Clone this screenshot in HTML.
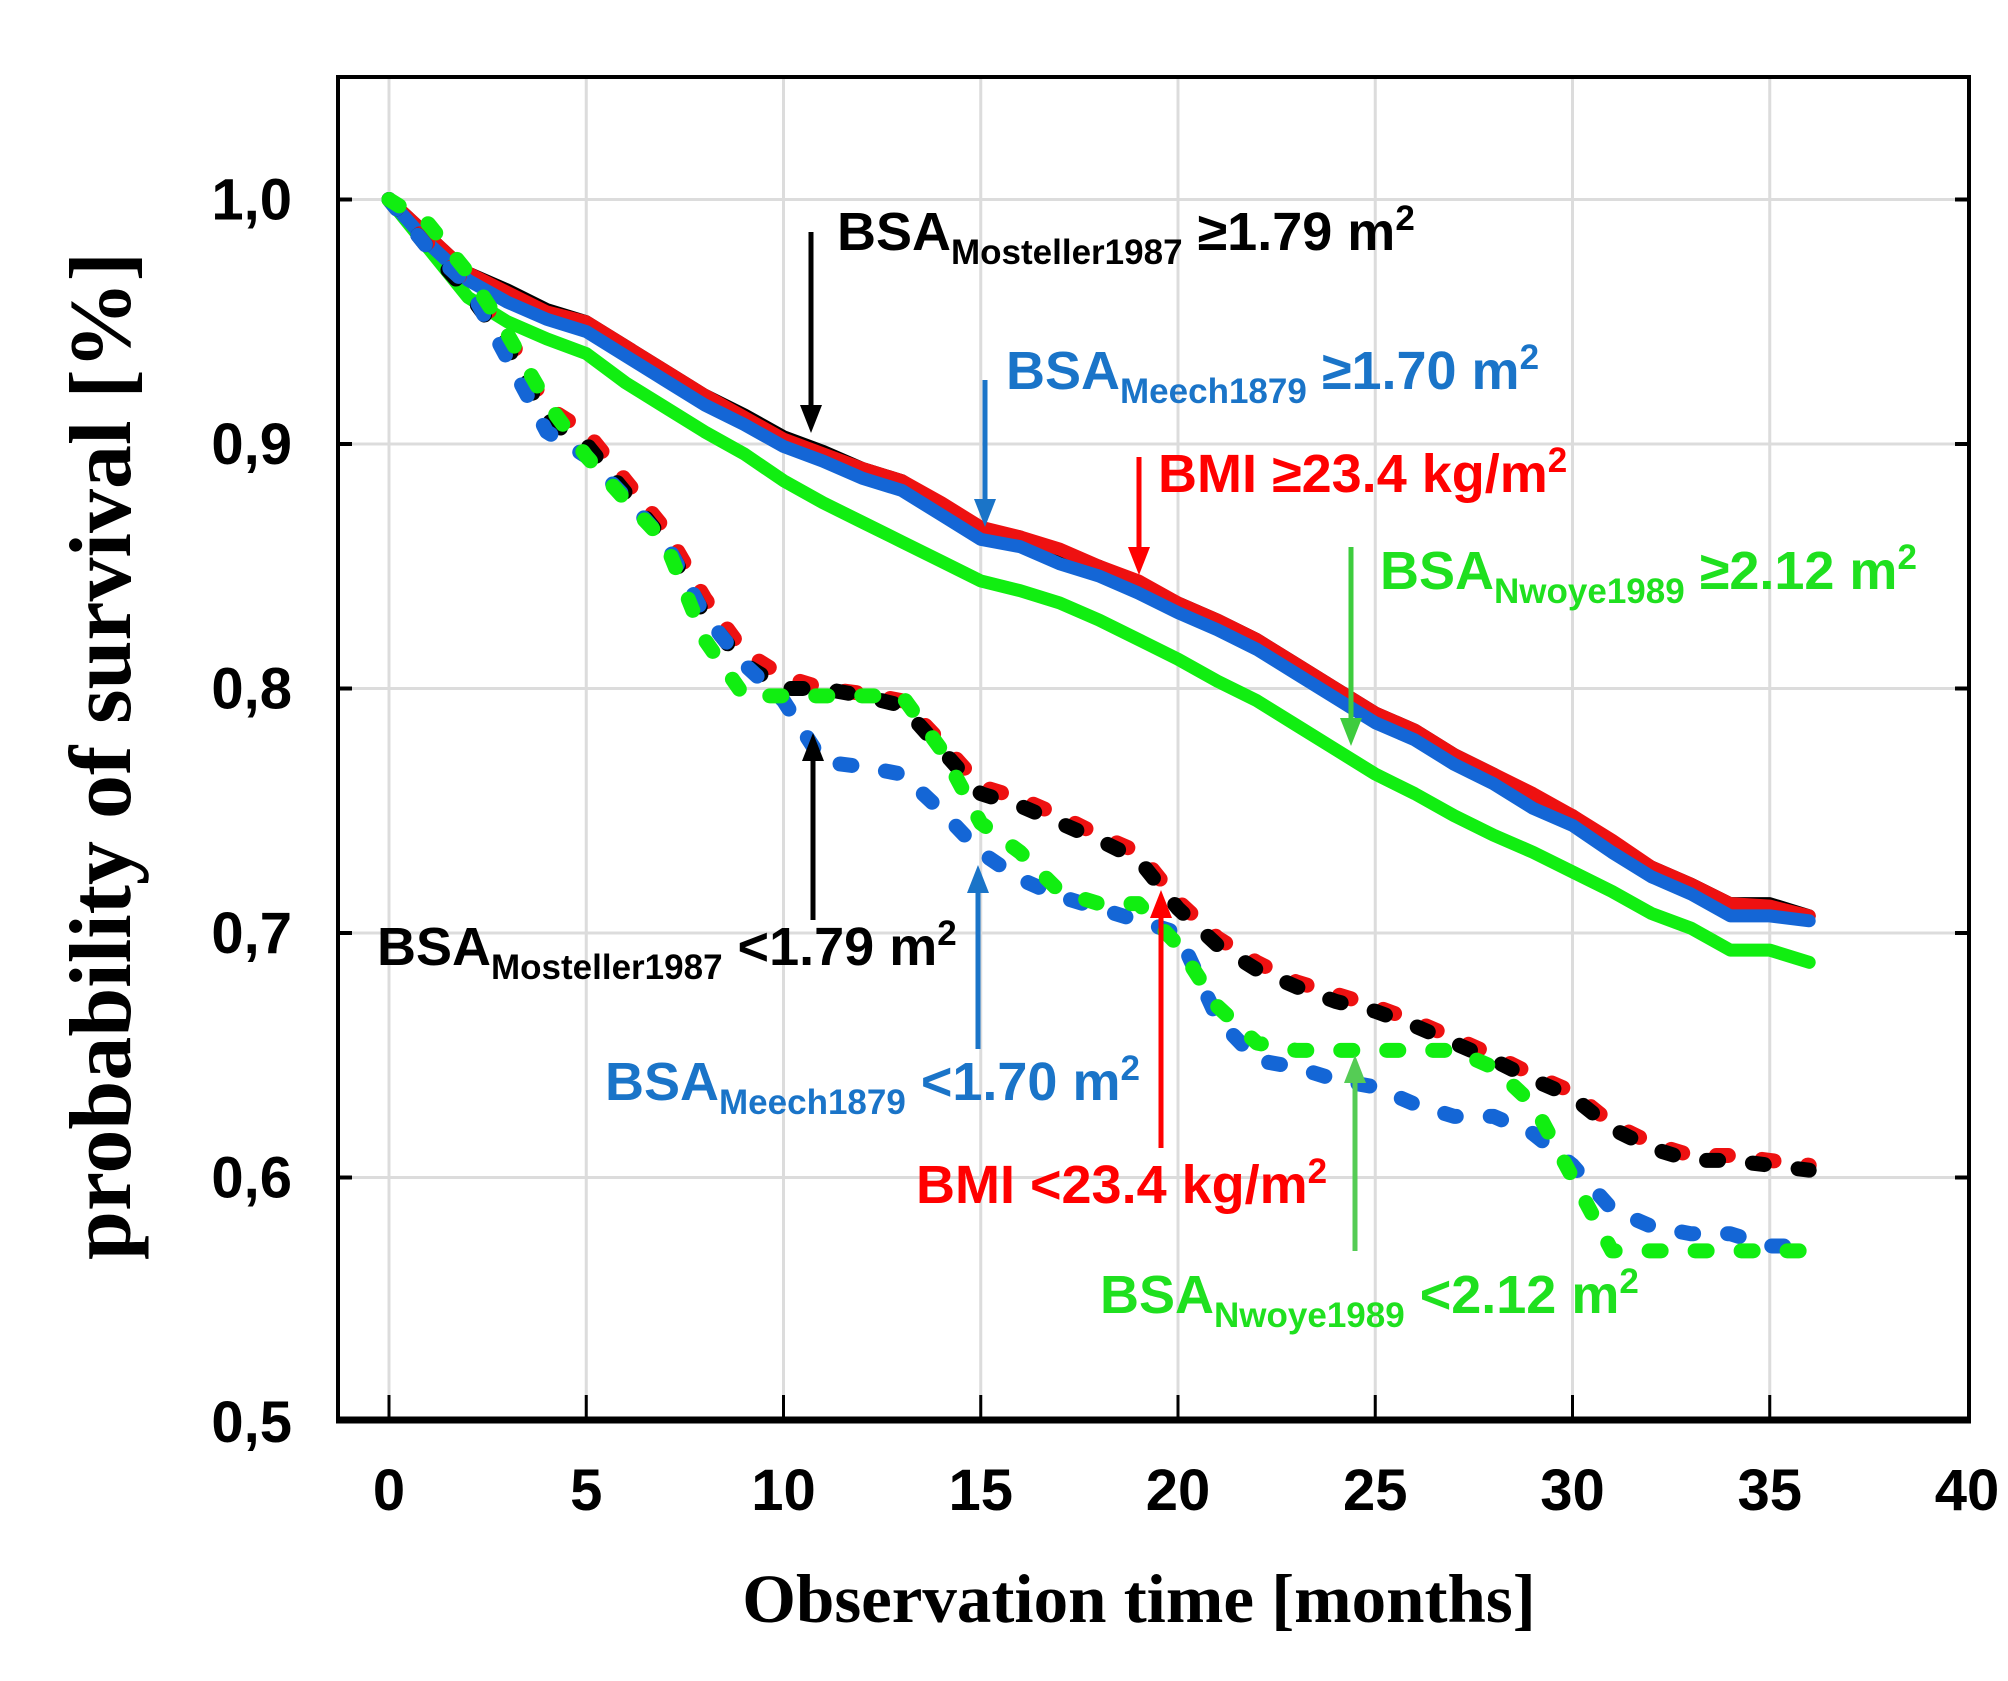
<!DOCTYPE html>
<html><head><meta charset="utf-8"><style>
html,body{margin:0;padding:0;background:#fff;}
svg{display:block;}
.lab{font-family:"Liberation Sans",sans-serif;font-weight:bold;font-size:54px;}
.sub{font-size:35px;}
.tick{font-family:"Liberation Sans",sans-serif;font-weight:bold;font-size:58px;}
.ttl{font-family:"Liberation Serif",serif;font-weight:bold;}
</style></head><body>
<svg id="chart" width="2008" height="1681" viewBox="0 0 2008 1681">
<g id="grid"></g>
<g id="series"></g>
<rect x="338" y="77" width="1631" height="1343" fill="none" stroke="#000" stroke-width="4"/>
<line x1="336" y1="1420" x2="1971" y2="1420" stroke="#000" stroke-width="7"/>
<g id="ticks"></g>
<text class="ttl" font-size="88" transform="translate(130,756) rotate(-90)" text-anchor="middle">probability of survival [%]</text>
<text class="ttl" font-size="69" x="1139" y="1622" text-anchor="middle">Observation time [months]</text>
<g id="annot">
<text class="lab" x="837" y="250" fill="#000">BSA<tspan class="sub" dy="14">Mosteller1987</tspan><tspan dy="-14"> ≥1.79 m</tspan><tspan class="sub" dy="-20">2</tspan></text>
<text class="lab" x="1006" y="389" fill="#1a74c8">BSA<tspan class="sub" dy="14">Meech1879</tspan><tspan dy="-14"> ≥1.70 m</tspan><tspan class="sub" dy="-20">2</tspan></text>
<text class="lab" x="1158" y="492" fill="#f00">BMI ≥23.4 kg/m<tspan class="sub" dy="-20">2</tspan></text>
<text class="lab" x="1380" y="589" fill="#1fe01f">BSA<tspan class="sub" dy="14">Nwoye1989</tspan><tspan dy="-14"> ≥2.12 m</tspan><tspan class="sub" dy="-20">2</tspan></text>
<text class="lab" x="377" y="965" fill="#000">BSA<tspan class="sub" dy="14">Mosteller1987</tspan><tspan dy="-14"> &lt;1.79 m</tspan><tspan class="sub" dy="-20">2</tspan></text>
<text class="lab" x="605" y="1100" fill="#1a74c8">BSA<tspan class="sub" dy="14">Meech1879</tspan><tspan dy="-14"> &lt;1.70 m</tspan><tspan class="sub" dy="-20">2</tspan></text>
<text class="lab" x="916" y="1203" fill="#f00">BMI &lt;23.4 kg/m<tspan class="sub" dy="-20">2</tspan></text>
<text class="lab" x="1100" y="1313" fill="#1fe01f">BSA<tspan class="sub" dy="14">Nwoye1989</tspan><tspan dy="-14"> &lt;2.12 m</tspan><tspan class="sub" dy="-20">2</tspan></text>
</g>
<g id="arrows"></g>
</svg>
<script>
const months = [0,1,2,3,4,5,6,7,8,9,10,11,12,13,14,15,16,17,18,19,20,21,22,23,24,25,26,27,28,29,30,31,32,33,34,35,36];
const blackHigh = [1.0,0.985,0.97,0.963,0.955,0.95,0.94,0.93,0.92,0.912,0.903,0.897,0.89,0.885,0.875,0.865,0.862,0.855,0.85,0.843,0.835,0.828,0.82,0.81,0.8,0.79,0.783,0.773,0.765,0.755,0.748,0.737,0.727,0.72,0.712,0.712,0.707];
const redHigh = [1.0,0.985,0.97,0.962,0.954,0.95,0.94,0.93,0.92,0.911,0.902,0.896,0.89,0.885,0.876,0.866,0.862,0.857,0.85,0.844,0.835,0.828,0.82,0.81,0.8,0.79,0.783,0.773,0.765,0.757,0.748,0.738,0.727,0.72,0.712,0.711,0.707];
const blueHigh = [1.0,0.982,0.967,0.958,0.951,0.946,0.936,0.926,0.916,0.908,0.899,0.893,0.886,0.881,0.871,0.861,0.858,0.851,0.846,0.839,0.831,0.824,0.816,0.806,0.796,0.786,0.779,0.769,0.761,0.751,0.744,0.733,0.723,0.716,0.707,0.707,0.705];
const greenHigh = [1.0,0.98,0.96,0.95,0.943,0.937,0.925,0.915,0.905,0.896,0.885,0.876,0.868,0.86,0.852,0.844,0.84,0.835,0.828,0.82,0.812,0.803,0.795,0.785,0.775,0.765,0.757,0.748,0.74,0.733,0.725,0.717,0.708,0.702,0.693,0.693,0.688];
const blackLow = [1.0,0.98,0.962,0.94,0.91,0.9,0.88,0.86,0.83,0.81,0.8,0.8,0.797,0.793,0.775,0.757,0.752,0.745,0.738,0.73,0.71,0.695,0.685,0.678,0.672,0.668,0.662,0.655,0.648,0.64,0.633,0.62,0.612,0.607,0.607,0.605,0.603];
const redLow = [1.0,0.982,0.965,0.945,0.915,0.905,0.885,0.865,0.837,0.815,0.805,0.8,0.798,0.795,0.778,0.76,0.755,0.748,0.74,0.733,0.713,0.698,0.688,0.68,0.675,0.67,0.664,0.657,0.65,0.642,0.635,0.622,0.614,0.609,0.609,0.607,0.605];
const blueLow = [1.0,0.98,0.965,0.935,0.905,0.895,0.878,0.86,0.83,0.81,0.795,0.77,0.768,0.765,0.75,0.733,0.722,0.715,0.71,0.705,0.7,0.665,0.648,0.645,0.64,0.637,0.63,0.625,0.625,0.618,0.605,0.587,0.58,0.577,0.577,0.572,0.572];
const greenLow = [1.0,0.99,0.97,0.945,0.917,0.895,0.877,0.86,0.82,0.797,0.797,0.797,0.797,0.797,0.775,0.745,0.733,0.717,0.712,0.712,0.695,0.67,0.655,0.652,0.652,0.652,0.652,0.652,0.645,0.63,0.6,0.57,0.57,0.57,0.57,0.57,0.57];
const xTicks = [0,5,10,15,20,25,30,35,40];
const yTicks = [0.5,0.6,0.7,0.8,0.9,1.0];
const yTickLabels = ["0,5","0,6","0,7","0,8","0,9","1,0"];

const NS = "http://www.w3.org/2000/svg";
function xs(m){ return 389 + 39.45*m; }
function ys(v){ return 199.5 + (1-v)*2445; }
function mk(tag, attrs, parent){ const e=document.createElementNS(NS,tag); for(const k in attrs) e.setAttribute(k,attrs[k]); parent.appendChild(e); return e; }

const grid=document.getElementById('grid'), ticks=document.getElementById('ticks');
xTicks.forEach(t=>{
  const x=xs(t);
  if(t<40){
    const g=mk('line',{x1:x,y1:79,x2:x,y2:1418,stroke:'#dcdcdc','stroke-width':3},grid);
    
    
    const tk=mk('line',{x1:x,y1:1395,x2:x,y2:1420,stroke:'#000','stroke-width':3},ticks);
    
    
  }
  const lb=mk('text',{x:x,y:1510,'text-anchor':'middle',class:'tick'},ticks);
  lb.textContent=t;
  
  
});
yTicks.forEach((v,i)=>{
  const y=ys(v);
  if(v>0.5){
    const g=mk('line',{x1:340,y1:y,x2:1967,y2:y,stroke:'#dcdcdc','stroke-width':3},grid);
    
    
    const tk=mk('line',{x1:338,y1:y,x2:352,y2:y,stroke:'#000','stroke-width':4},ticks);
    
    
    const tk2=mk('line',{x1:1955,y1:y,x2:1969,y2:y,stroke:'#000','stroke-width':4},ticks);
    
    
  }
  const lb=mk('text',{x:292,y:y+20,'text-anchor':'end',class:'tick'},ticks);
  lb.textContent=yTickLabels[i];
  
  
});

function smoothPath(vals){
  let d='M'+xs(months[0])+','+ys(vals[0]);
  for(let i=1;i<months.length;i++) d+=' L'+xs(months[i])+','+ys(vals[i]);
  return d;
}
const series=document.getElementById('series');
const defs=[
 ['green-high',greenHigh,'#11ee11',false],
 ['black-high',blackHigh,'#000',false],
 ['red-high',redHigh,'#ee1111',false],
 ['blue-high',blueHigh,'#1466d6',false],
 ['red-low',redLow,'#ee1111',true],
 ['black-low',blackLow,'#000',true],
 ['blue-low',blueLow,'#1466d6',true],
 ['green-low',greenLow,'#11ee11',true]
];
defs.forEach(s=>{
  const p=mk('path',{d:smoothPath(s[1]),fill:'none',stroke:s[2],'stroke-width':s[3]?15:13,'stroke-linejoin':'round','stroke-linecap':'round'},series);
  if(s[3]){ p.setAttribute('stroke-dasharray','12 34'); }
  
  
});

const arrows=document.getElementById('arrows');
function arrow(x,y1,y2,color,name){
  const dir = y2>y1 ? 1 : -1;
  const l=mk('line',{x1:x,y1:y1,x2:x,y2:y2-dir*24,stroke:color,'stroke-width':5},arrows);
  
  
  const h=mk('polygon',{points:`${x-11},${y2-dir*28} ${x+11},${y2-dir*28} ${x},${y2}`,fill:color},arrows);
  
  
}
arrow(811,232,433,'#000','arrow-mosteller-high');
arrow(985,380,527,'#1a74c8','arrow-meech-high');
arrow(1139,457,575,'#f00','arrow-bmi-high');
arrow(1351,547,746,'#3ecc3e','arrow-nwoye-high');
arrow(813,920,733,'#000','arrow-mosteller-low');
arrow(978,1049,865,'#1a74c8','arrow-meech-low');
arrow(1161,1148,890,'#f00','arrow-bmi-low');
arrow(1355,1251,1055,'#55cc55','arrow-nwoye-low');
</script>
</body></html>
